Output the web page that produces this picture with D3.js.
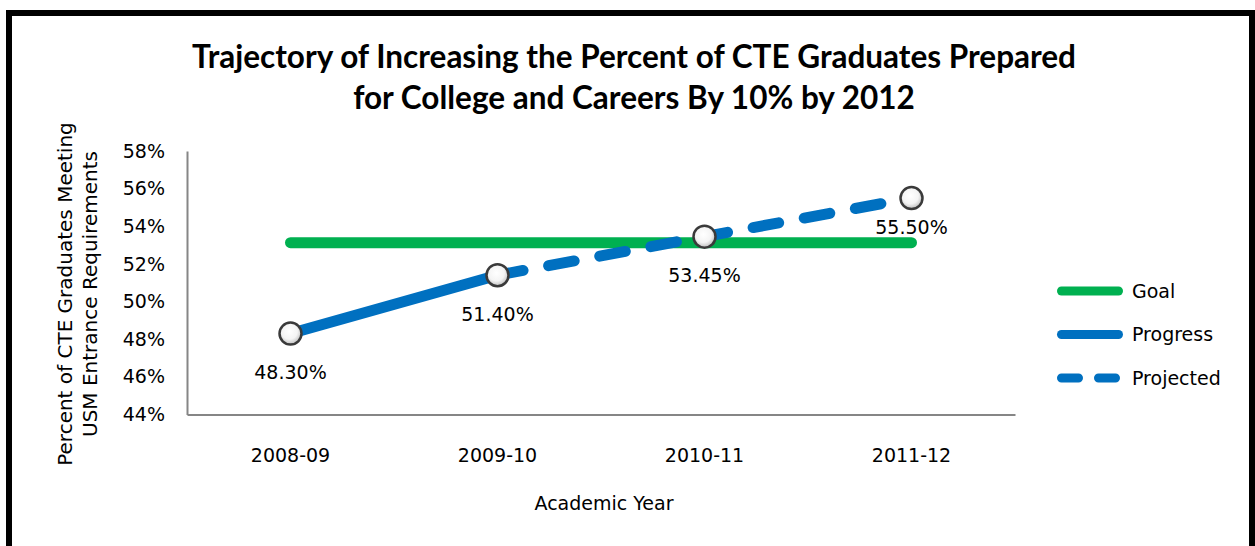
<!DOCTYPE html>
<html>
<head>
<meta charset="utf-8">
<script src="https://cdn.jsdelivr.net/npm/d3@7"></script>
<style>
  body { margin: 0; background: #fff; }
  text { font-family: "DejaVu Sans", sans-serif; fill: #000; }
  .title { font-family: Lato, "Open Sans", sans-serif; font-weight: bold; }
</style>
</head>
<body>
<svg id="chart" width="1255" height="546"></svg>
<script>
// chart data
const years = ['2008-09', '2009-10', '2010-11', '2011-12'];
const goal = [0.5313, 0.5313, 0.5313, 0.5313];
const progress = [0.483, 0.514, null, null];
const projected = [null, 0.514, 0.5345, 0.555];
const pointValues = [0.483, 0.514, 0.5345, 0.555];
const yTicks = [0.44, 0.46, 0.48, 0.50, 0.52, 0.54, 0.56, 0.58];
const seriesNames = ['Goal', 'Progress', 'Projected'];

const GREEN = '#00B050';
const BLUE = '#0070C0';
const AXIS = '#868686';

let svg = d3.select('#chart');

// outer frame
svg.append('rect')
  .attr('x', 9).attr('y', 13)
  .attr('width', 1243).attr('height', 600)
  .attr('fill', '#fff')
  .attr('stroke', '#000')
  .attr('stroke-width', 6);

// title
let title = svg.append('text')
  .attr('class', 'title')
  .attr('text-anchor', 'middle')
  .attr('font-size', 31.5);
title.append('tspan').attr('x', 634).attr('y', 68)
  .text('Trajectory of Increasing the Percent of CTE Graduates Prepared');
title.append('tspan').attr('x', 634).attr('y', 109)
  .text('for College and Careers By 10% by 2012');

let x = d3.scaleBand()
  .domain(years)
  .range([187, 1015]);

let y = d3.scaleLinear()
  .domain([0.44, 0.58])
  .range([414.5, 151]);

let cx = function (d) { return x(d) + x.bandwidth() / 2; };

// axes
let yAxis = svg.append('g')
  .attr('transform', 'translate(187,0)')
  .call(d3.axisLeft(y).tickValues(yTicks).tickSize(0).tickPadding(22).tickFormat(d3.format('.0%')));
yAxis.selectAll('text').attr('font-size', 19).attr('font-family', '"DejaVu Sans", sans-serif');

let xAxis = svg.append('g')
  .attr('transform', 'translate(0,414.5)')
  .call(d3.axisBottom(x).tickSize(0).tickPadding(34).tickSizeOuter(0));
xAxis.selectAll('text').attr('font-size', 19).attr('font-family', '"DejaVu Sans", sans-serif');

svg.selectAll('.domain')
  .attr('stroke', AXIS)
  .attr('stroke-width', 2);

// axis titles
svg.append('text')
  .attr('x', 604).attr('y', 510)
  .attr('text-anchor', 'middle')
  .attr('font-size', 19)
  .text('Academic Year');

let yTitle = svg.append('text')
  .attr('transform', 'translate(0,294) rotate(-90)')
  .attr('text-anchor', 'middle')
  .attr('font-size', 20);
yTitle.append('tspan').attr('x', 0).attr('y', 72).text('Percent of CTE Graduates Meeting');
yTitle.append('tspan').attr('x', 0).attr('y', 97).text('USM Entrance Requirements');

// lines
let line = d3.line()
  .defined(function (d) { return d != null; })
  .x(function (d, i) { return cx(years[i]); })
  .y(function (d) { return y(d); });

svg.append('path')
  .attr('d', line(goal))
  .attr('fill', 'none')
  .attr('stroke', GREEN)
  .attr('stroke-width', 11)
  .attr('stroke-linecap', 'round');

svg.append('path')
  .attr('d', line(projected))
  .attr('fill', 'none')
  .attr('stroke', BLUE)
  .attr('stroke-width', 11)
  .attr('stroke-linecap', 'round')
  .attr('stroke-dasharray', '26,26');

svg.append('path')
  .attr('d', line(progress))
  .attr('fill', 'none')
  .attr('stroke', BLUE)
  .attr('stroke-width', 11)
  .attr('stroke-linecap', 'round');

// markers
let grad = svg.append('defs').append('radialGradient')
  .attr('id', 'marker-fill')
  .attr('cx', '45%').attr('cy', '40%').attr('r', '60%');
grad.append('stop').attr('offset', '0%').attr('stop-color', '#ffffff');
grad.append('stop').attr('offset', '60%').attr('stop-color', '#f4f4f4');
grad.append('stop').attr('offset', '100%').attr('stop-color', '#bdbdbd');

svg.append('g')
  .selectAll('circle')
  .data(pointValues)
  .enter().append('circle')
  .attr('cx', function (d, i) { return cx(years[i]); })
  .attr('cy', function (d) { return y(d); })
  .attr('r', 11)
  .attr('fill', 'url(#marker-fill)')
  .attr('stroke', '#3a3a3a')
  .attr('stroke-width', 2.5);

// data labels, nudged up when they would sit on the goal line
svg.append('g')
  .selectAll('text')
  .data(pointValues)
  .enter().append('text')
  .attr('x', function (d, i) { return cx(years[i]); })
  .attr('y', function (d, i) {
    let ly = y(d) + 39;
    if (Math.abs(ly - y(goal[i])) < 14) ly = y(d) + 29;
    return ly;
  })
  .attr('dy', '0.35em')
  .attr('text-anchor', 'middle')
  .attr('font-size', 19)
  .text(d3.format('.2%'));

// legend
let legend = svg.append('g')
  .selectAll('g')
  .data(seriesNames)
  .enter().append('g')
  .attr('transform', function (d, i) { return 'translate(0,' + (291 + i * 43.5) + ')'; });

legend.append('line')
  .attr('x1', 1061.5).attr('x2', 1118.5)
  .attr('stroke', function (d) { return d === 'Goal' ? GREEN : BLUE; })
  .attr('stroke-width', 9)
  .attr('stroke-linecap', 'round')
  .attr('stroke-dasharray', function (d) { return d === 'Projected' ? '17,20' : null; });

legend.append('text')
  .attr('x', 1132)
  .attr('dy', '0.35em')
  .attr('font-size', 19)
  .text(function (d) { return d; });
</script>
</body>
</html>
